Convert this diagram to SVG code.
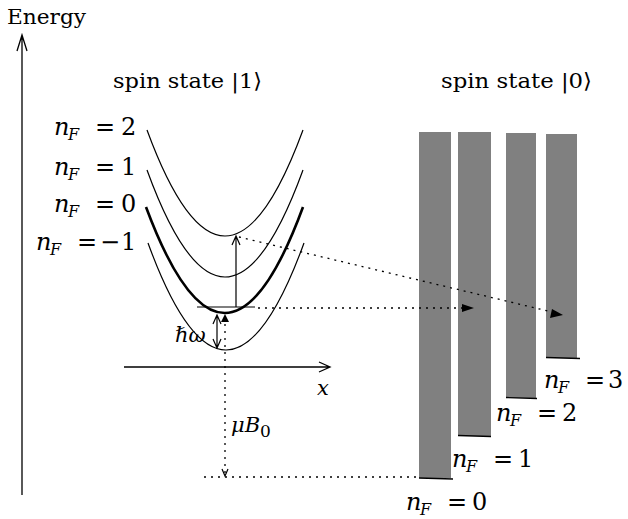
<svg xmlns="http://www.w3.org/2000/svg" width="628" height="519" viewBox="0 0 628 519">
<style>
text{font-family:'DejaVu Serif','Liberation Serif',serif;font-size:21px;fill:#000}
.lb{font-size:24px}
.i{font-style:italic}
.sub{font-style:italic;font-size:16px}
.c{fill:none;stroke:#000;stroke-width:1.2}
.thick{fill:none;stroke:#000;stroke-width:2.6}
.ax{fill:none;stroke:#000;stroke-width:1.3}
.dot{fill:none;stroke:#000;stroke-width:1.3;stroke-dasharray:2 5}
.bar{fill:#808080}
.base{stroke:#000;stroke-width:1.3}
</style>
<rect width="628" height="519" fill="#fff"/>
<g id="axes">
<text x="7" y="24" textLength="79" lengthAdjust="spacingAndGlyphs">Energy</text>
<path class="ax" d="M22,495 V36 M17,51 L22,35 L27,51"/>
<path class="ax" d="M124,367 H329 M319,362 L330,367 L319,372"/>
<text class="i" x="317" y="395" font-size="25">x</text>
</g>
<g id="titles">
<text x="113" y="88" textLength="149" lengthAdjust="spacingAndGlyphs">spin state |1⟩</text>
<text x="441" y="88" textLength="151" lengthAdjust="spacingAndGlyphs">spin state |0⟩</text>
</g>
<g id="parabola-n2">
<path class="c" d="M147,130 Q225,342 303,130"/>
<text class="lb" y="135"><tspan class="i" x="54">n</tspan><tspan class="sub" x="68" dy="5">F</tspan><tspan x="95" dy="-5">=</tspan><tspan x="121">2</tspan></text>
</g>
<g id="parabola-n1">
<path class="c" d="M147,170 Q225,384 303,170"/>
<text class="lb" y="175"><tspan class="i" x="54">n</tspan><tspan class="sub" x="68" dy="5">F</tspan><tspan x="95" dy="-5">=</tspan><tspan x="121">1</tspan></text>
</g>
<g id="parabola-n0">
<path class="thick" d="M146,207 Q225,419 303,207"/>
<text class="lb" y="212"><tspan class="i" x="54">n</tspan><tspan class="sub" x="68" dy="5">F</tspan><tspan x="95" dy="-5">=</tspan><tspan x="121">0</tspan></text>
</g>
<g id="parabola-nm1">
<path class="c" d="M148,243 Q226,457 304,243"/>
<text class="lb" y="250"><tspan class="i" x="36">n</tspan><tspan class="sub" x="50" dy="5">F</tspan><tspan x="77" dy="-5">=</tspan><tspan x="100">−</tspan><tspan x="121">1</tspan></text>
</g>
<g id="bar-n0">
<rect class="bar" x="419" y="132" width="32" height="346"/>
<line class="base" x1="419" y1="478" x2="453" y2="479" stroke-width="2.2"/>
<text class="lb" y="510"><tspan class="i" x="406">n</tspan><tspan class="sub" x="420" dy="5">F</tspan><tspan x="447" dy="-5">=</tspan><tspan x="472">0</tspan></text>
</g>
<g id="bar-n1">
<rect class="bar" x="458" y="132" width="33" height="304"/>
<line class="base" x1="458" y1="435.5" x2="491" y2="436.5"/>
<text class="lb" y="467"><tspan class="i" x="452">n</tspan><tspan class="sub" x="466" dy="5">F</tspan><tspan x="493" dy="-5">=</tspan><tspan x="518">1</tspan></text>
</g>
<g id="bar-n2">
<rect class="bar" x="506" y="133" width="30" height="265"/>
<line class="base" x1="506" y1="397.5" x2="537" y2="398.5"/>
<text class="lb" y="421"><tspan class="i" x="496">n</tspan><tspan class="sub" x="510" dy="5">F</tspan><tspan x="537" dy="-5">=</tspan><tspan x="562">2</tspan></text>
</g>
<g id="bar-n3">
<rect class="bar" x="546" y="134" width="31" height="224"/>
<line class="base" x1="546" y1="357.5" x2="580" y2="358.5"/>
<text class="lb" y="388"><tspan class="i" x="544">n</tspan><tspan class="sub" x="558" dy="5">F</tspan><tspan x="585" dy="-5">=</tspan><tspan x="608">3</tspan></text>
</g>
<g id="connectors">
<line class="c" x1="197" y1="307" x2="255" y2="307"/>
<path class="c" d="M236,307 V237 M232,245 L236,236 L240,245"/>
<path class="dot" d="M239,237 L552,312"/>
<polygon points="563,315 550,318 552,309" fill="#000"/>
<path class="dot" d="M258,308 H462"/>
<polygon points="474,308 462,304 462,312" fill="#000"/>
<path class="c" d="M217,316 V347 M213,324 L217,315 L221,324 M213,339 L217,348 L221,339"/>
<text class="i" x="175" y="342" font-size="23">ℏω</text>
<polygon points="225,314 221,322 229,322" fill="#000"/>
<path class="dot" d="M225,324 V474"/>
<path class="c" d="M222,469 L225,476 L228,469"/>
<text x="231" y="432" font-size="25"><tspan class="i">μB</tspan><tspan font-size="17" dy="5">0</tspan></text>
<path class="dot" d="M204,477 H420"/>
</g>
</svg>
